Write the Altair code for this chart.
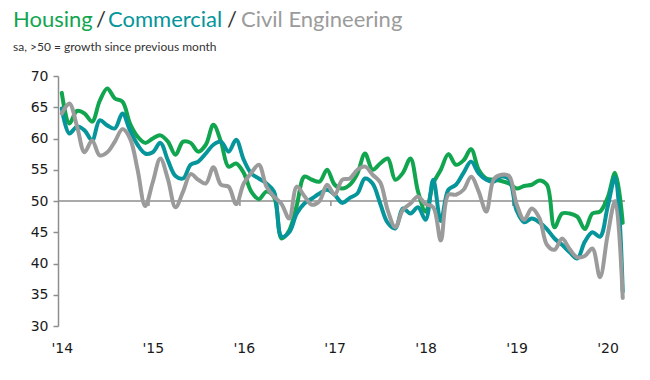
import json
import pandas as pd
import altair as alt

# Monthly indices, Jan 2014 .. Mar 2020
housing = [
    67.3, 62.4, 64.4, 64.0, 62.7, 66.0, 68.0, 66.4, 65.9, 62.4, 60.3, 59.3,
    60.0, 60.5, 59.5, 57.4, 59.5, 59.3, 57.9, 59.0, 62.2, 59.5, 55.5, 56.0,
    54.5, 51.5, 50.3, 51.5, 50.6, 44.0, 45.3, 49.3, 53.9, 53.4, 53.1, 55.0,
    52.6, 52.0, 52.6, 54.4, 57.6, 55.0, 56.0, 56.8, 53.4, 54.5, 56.8, 51.5,
    48.3, 52.8, 55.0, 57.5, 55.8, 56.5, 58.3, 55.0, 53.6, 53.4, 53.2, 52.8,
    52.0, 52.4, 52.6, 53.3, 52.6, 45.8, 48.0, 48.0, 47.5, 45.5, 48.0, 48.3,
    50.5, 54.5, 46.5,
]
commercial = [
    64.8, 60.8, 61.9, 61.3, 59.7, 62.9, 62.1, 61.6, 64.0, 61.3, 59.0, 57.6,
    57.8, 59.3, 56.5, 54.0, 53.6, 55.8, 56.3, 57.6, 59.0, 59.5, 57.9, 59.8,
    56.6, 54.4, 53.6, 52.8, 51.5, 44.3, 45.0, 48.0, 49.6, 50.4, 51.2, 51.8,
    51.0, 49.7, 50.5, 51.2, 53.6, 52.8, 49.6, 46.5, 45.6, 48.8, 48.0, 49.0,
    47.0, 53.4, 46.8, 51.8, 52.6, 54.5, 56.3, 54.4, 53.4, 53.1, 53.9, 53.5,
    48.5, 46.6, 47.2, 46.6, 45.5, 44.0, 43.0, 41.8, 40.8, 43.5, 45.0, 44.3,
    49.0, 53.8, 35.5,
]
civil = [
    64.0, 65.6, 62.0, 57.8, 59.7, 57.3, 57.8, 59.5, 61.5, 60.0, 55.0, 49.2,
    53.0, 56.8, 53.5, 49.0, 51.5, 54.3, 53.4, 52.8, 55.4, 52.6, 52.3, 49.5,
    52.8, 54.5, 55.8, 52.3, 50.7, 49.5, 47.2, 52.3, 50.8, 49.4, 50.0, 52.6,
    51.0, 53.4, 53.6, 55.0, 55.5, 54.2, 53.0, 48.5, 45.8, 48.6, 49.6, 50.7,
    49.5, 49.0, 43.7, 51.0, 51.0, 51.8, 53.9, 51.5, 48.3, 53.5, 54.2, 54.0,
    49.5, 47.0, 48.8, 47.3, 43.0, 42.2, 44.0, 42.3, 41.0, 41.2, 42.4, 37.8,
    44.5, 50.0, 34.5,
]
year_labels = ["'14", "'15", "'16", "'17", "'18", "'19", "'20"]
y_ticks = [30, 35, 40, 45, 50, 55, 60, 65, 70]
ref_value = 50

GREEN = "#12a550"
TEAL = "#05959a"
GRAY = "#9b9b9b"
AXIS = "#8e8e8e"
TXT = "#1a1a1a"

months = list(range(len(housing)))
df = pd.DataFrame({"m": months, "housing": housing,
                   "commercial": commercial, "civil": civil})

x_lo, x_hi = -0.5, len(housing) - 0.7
xscale = alt.Scale(domain=[x_lo, x_hi], nice=False, zero=False)
yscale = alt.Scale(domain=[min(y_ticks), max(y_ticks)], nice=False, zero=False)

xaxis = alt.Axis(values=[12 * k for k in range(len(year_labels))],
                 labelExpr=json.dumps(year_labels) + "[round(datum.value/12)]",
                 domain=False, ticks=False, grid=False, title=None,
                 labelFont="DejaVu Sans", labelFontSize=14, labelColor=TXT,
                 labelPadding=15)
yaxis = alt.Axis(values=y_ticks, domain=True, domainColor=AXIS, domainWidth=1.5,
                 ticks=True, tickColor=AXIS, tickSize=5, tickWidth=1.5,
                 grid=False, title=None, labelFont="DejaVu Sans",
                 labelFontSize=14, labelColor=TXT, labelPadding=5)

X = alt.X("m:Q", scale=xscale, axis=xaxis)

ref_df = pd.DataFrame({"x0": [x_lo], "x1": [x_hi], "y": [ref_value]})
ref = alt.Chart(ref_df).mark_rule(color=AXIS, strokeWidth=1.5).encode(
    x=alt.X("x0:Q", scale=xscale, axis=xaxis), x2="x1:Q",
    y=alt.Y("y:Q", scale=yscale, axis=yaxis))

tick_df = pd.DataFrame({"t": [12 * k - 0.5 for k in range(1, len(year_labels))],
                        "y": [ref_value] * (len(year_labels) - 1),
                        "y2": [ref_value - 0.8] * (len(year_labels) - 1)})
ticks = alt.Chart(tick_df).mark_rule(color=AXIS, strokeWidth=1.5).encode(
    x=alt.X("t:Q", scale=xscale, axis=xaxis),
    y=alt.Y("y:Q", scale=yscale, axis=yaxis), y2="y2:Q")


def series(field, color):
    return alt.Chart(df).mark_line(
        interpolate="catmull-rom", strokeWidth=4, color=color,
        strokeCap="round", strokeJoin="round").encode(
        x=X, y=alt.Y(f"{field}:Q", scale=yscale, axis=yaxis))


title_parts = [("Housing", GREEN, -45), ("/", "#333333", 38),
               ("Commercial", TEAL, 50), ("/", "#333333", 169),
               ("Civil Engineering", GRAY, 183)]
texts = []
for t, c, px in title_parts:
    texts.append(alt.Chart(pd.DataFrame({"t": [t]})).mark_text(
        align="left", baseline="alphabetic", font="Lato", fontSize=22,
        color=c).encode(text="t:N", x=alt.value(px), y=alt.value(-49)))
texts.append(alt.Chart(pd.DataFrame({"t": ["sa, >50 = growth since previous month"]})).mark_text(
    align="left", baseline="middle", font="Lato", fontSize=12,
    color="#333333").encode(text="t:N", x=alt.value(-45), y=alt.value(-29)))

chart = alt.layer(
    ref, ticks,
    series("housing", GREEN), series("commercial", TEAL), series("civil", GRAY),
    *texts,
).properties(
    width=567, height=250,
    padding={"left": 50, "top": 68, "right": 17, "bottom": 40},
    autosize=alt.AutoSizeParams(type="none"),
).configure_view(stroke=None)

chart.save("out.html", embed_options={"renderer": "svg", "actions": False})
